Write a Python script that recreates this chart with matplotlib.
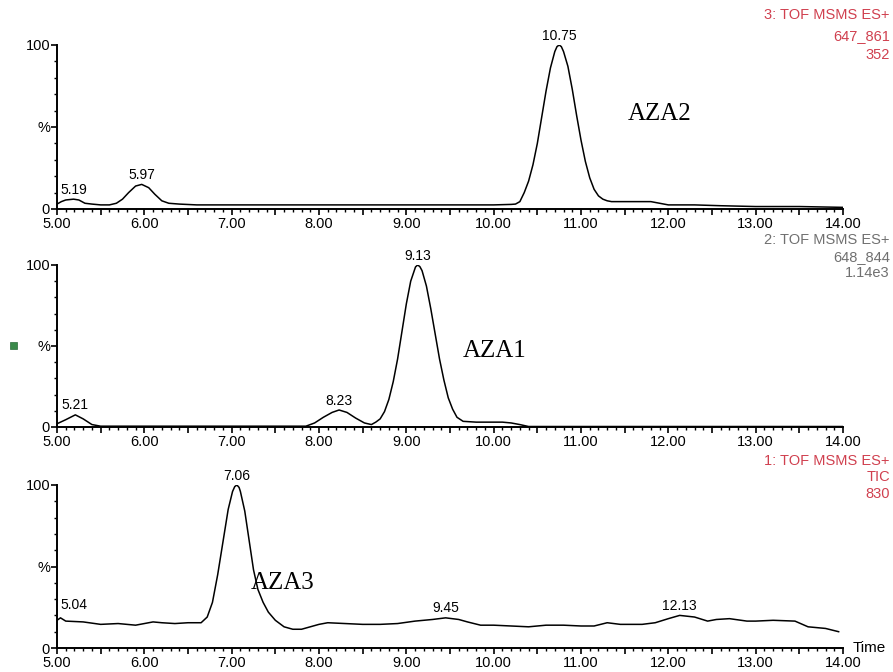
import matplotlib
matplotlib.use("Agg")
import matplotlib.pyplot as plt
from matplotlib.ticker import MultipleLocator, FuncFormatter
from matplotlib.patches import Rectangle

# ---------------- data ----------------
# Panel 1: 3: TOF MSMS ES+ 647_861 (AZA2)
t1 = [5.00, 5.05, 5.10, 5.19, 5.25, 5.32, 5.40, 5.50, 5.60, 5.68, 5.75, 5.82, 5.90, 5.97,
      6.05, 6.12, 6.20, 6.28, 6.40, 6.60, 6.80, 7.00, 7.50, 8.00, 8.50, 9.00, 9.50, 9.80,
      10.00, 10.20, 10.25, 10.30, 10.35, 10.40, 10.45, 10.50, 10.55, 10.60, 10.65, 10.70,
      10.725, 10.75, 10.775, 10.80, 10.85, 10.90, 10.95, 11.00, 11.05, 11.10, 11.15, 11.20,
      11.25, 11.30, 11.35, 11.60, 11.80, 11.90, 12.00, 12.30, 12.60, 13.00, 13.50, 14.00]
i1 = [3.0, 4.5, 5.5, 6.0, 5.5, 3.5, 3.0, 2.5, 2.5, 3.5, 6.0, 10.0, 14.0, 15.0,
      13.0, 9.0, 5.0, 3.5, 3.0, 2.5, 2.5, 2.5, 2.5, 2.5, 2.5, 2.5, 2.5, 2.5,
      2.5, 2.8, 3.0, 4.5, 10.0, 17.0, 27.0, 40.0, 56.0, 72.0, 86.0, 96.0,
      99.0, 100.0, 99.0, 96.0, 87.0, 73.0, 57.0, 42.0, 29.0, 19.0, 12.0, 8.0,
      6.0, 5.0, 4.5, 4.5, 4.5, 3.5, 2.5, 2.5, 2.0, 1.5, 1.5, 1.0]

# Panel 2: 2: TOF MSMS ES+ 648_844 (AZA1)
t2 = [5.00, 5.10, 5.21, 5.30, 5.40, 5.50, 6.00, 7.00, 7.85, 7.95, 8.05, 8.15, 8.23, 8.32,
      8.42, 8.52, 8.60, 8.65, 8.70, 8.75, 8.80, 8.85, 8.90, 8.95, 9.00, 9.05, 9.105, 9.13,
      9.155, 9.18, 9.23, 9.28, 9.33, 9.38, 9.43, 9.48, 9.53, 9.58, 9.65, 9.80, 10.00, 10.10,
      10.20, 10.30, 10.40, 11.00, 12.00, 14.00]
i2 = [2.0, 4.5, 7.5, 5.0, 1.5, 0.5, 0.5, 0.5, 0.5, 2.5, 6.0, 9.0, 10.5, 9.0,
      5.5, 2.5, 1.5, 3.0, 5.0, 9.5, 17.0, 28.0, 42.0, 59.0, 76.0, 90.0, 98.8, 100.0,
      99.0, 96.5, 87.0, 73.0, 57.5, 42.0, 29.0, 18.0, 11.0, 6.0, 3.5, 3.0, 3.0, 3.0,
      2.5, 1.5, 0.3, 0.3, 0.3, 0.3]

# Panel 3: 1: TOF MSMS ES+ TIC (AZA3)
t3 = [5.00, 5.04, 5.10, 5.30, 5.50, 5.70, 5.90, 6.00, 6.10, 6.20, 6.35, 6.50, 6.65, 6.72,
      6.78, 6.84, 6.90, 6.96, 7.01, 7.035, 7.06, 7.085, 7.10, 7.15, 7.20, 7.25, 7.30, 7.36,
      7.42, 7.50, 7.60, 7.70, 7.80, 7.90, 8.00, 8.10, 8.30, 8.50, 8.70, 8.90, 9.10, 9.30,
      9.45, 9.60, 9.70, 9.85, 10.00, 10.20, 10.40, 10.60, 10.80, 11.00, 11.15, 11.30, 11.45,
      11.70, 11.85, 12.00, 12.13, 12.30, 12.45, 12.55, 12.70, 12.90, 13.00, 13.20, 13.45,
      13.60, 13.80, 13.95]
i3 = [17.0, 18.5, 16.5, 16.0, 14.5, 15.0, 14.0, 15.0, 16.0, 15.5, 15.0, 15.5, 15.5, 19.0,
      28.0, 45.0, 65.0, 85.0, 96.0, 99.0, 100.0, 98.5, 96.0, 84.0, 66.0, 48.0, 36.0, 28.0,
      22.0, 17.0, 13.0, 11.5, 11.5, 13.0, 14.5, 15.5, 15.0, 14.5, 14.5, 15.0, 16.5, 17.5,
      18.5, 17.5, 16.0, 14.0, 14.0, 13.5, 13.0, 14.0, 14.0, 13.5, 13.5, 15.5, 14.5,
      14.5, 15.5, 18.0, 20.0, 19.0, 16.5, 17.5, 18.0, 16.5, 16.5, 17.0, 16.5,
      13.0, 12.0, 10.0]

# peak labels: (time, intensity, text, horizontal alignment)
peaks1 = [(5.19, 6.0, "5.19", "center"), (5.97, 15.0, "5.97", "center"),
          (10.75, 100.0, "10.75", "center")]
peaks2 = [(5.21, 7.5, "5.21", "center"), (8.23, 10.5, "8.23", "center"),
          (9.13, 100.0, "9.13", "center")]
peaks3 = [(5.04, 20.5, "5.04", "left"), (7.06, 100.0, "7.06", "center"),
          (9.45, 18.5, "9.45", "center"), (12.13, 20.0, "12.13", "center")]

headers = [["3: TOF MSMS ES+", "647_861", "352"],
           ["2: TOF MSMS ES+", "648_844", "1.14e3"],
           ["1: TOF MSMS ES+", "TIC", "830"]]
header_colors = ["#d0404f", "#707070", "#d0404f"]
compounds = [("AZA2", 11.54, 58), ("AZA1", 9.65, 47), ("AZA3", 7.22, 40)]

# ---------------- figure ----------------
SANS = "Liberation Sans"
SERIF = "Liberation Serif"
fig = plt.figure(figsize=(8.93, 6.72), dpi=100)
fig.patch.set_facecolor("white")

left, width = 57 / 893, (843 - 57) / 893
rects = [(1 - 209 / 672, 164 / 672), (1 - 427 / 672, 162 / 672), (1 - 648 / 672, 163 / 672)]
series = [(t1, i1, peaks1), (t2, i2, peaks2), (t3, i3, peaks3)]
header_rows = [[15, 36, 55], [240, 257, 273], [461, 477, 494]]

for k, ((bottom, height), (t, inten, peaks)) in enumerate(zip(rects, series)):
    ax = fig.add_axes([left, bottom, width, height])
    ax.plot(t, inten, color="black", lw=1.1)
    ax.set_xlim(5.0, 14.0)
    ax.set_ylim(0, 100)
    for s in ["top", "right"]:
        ax.spines[s].set_visible(False)
    for s in ["left", "bottom"]:
        ax.spines[s].set_linewidth(1.4)
    ax.xaxis.set_major_locator(MultipleLocator(0.5))
    ax.xaxis.set_minor_locator(MultipleLocator(0.1))
    ax.xaxis.set_major_formatter(FuncFormatter(
        lambda v, p: f"{v:.2f}" if abs(v - round(v)) < 1e-6 else ""))
    ax.set_yticks([0, 50, 100])
    ax.set_yticklabels(["0", "%", "100"])
    ax.yaxis.set_minor_locator(MultipleLocator(10))
    ax.tick_params(axis="x", which="major", direction="out", length=4, width=1.2,
                   labelsize=10.5, pad=2)
    ax.tick_params(axis="x", which="minor", direction="out", length=2, width=1)
    ax.tick_params(axis="y", which="major", direction="out", length=4, width=1.2,
                   labelsize=10.5, pad=1)
    ax.tick_params(axis="y", which="minor", direction="out", length=2, width=1)
    for lab in ax.get_xticklabels() + ax.get_yticklabels():
        lab.set_fontfamily(SANS)
    for (px, py, txt, ha) in peaks:
        ax.text(px, py + 1.5, txt, ha=ha, va="bottom", fontsize=10,
                family=SANS, color="black")
    name, nx, ny = compounds[k]
    ax.text(nx, ny, name, ha="left", va="center", fontsize=18, family=SERIF)
    for j, line in enumerate(headers[k]):
        fig.text(890 / 893, 1 - header_rows[k][j] / 672, line, ha="right", va="center",
                 fontsize=10.5, family=SANS, color=header_colors[k])
    if k == 2:
        ax.text(1.012, 0.0, "Time", transform=ax.transAxes, ha="left",
                va="center", fontsize=11, family=SANS)

# small green marker at left of middle panel
fig.patches.append(Rectangle((10 / 893, 1 - 349 / 672), 7 / 893, 7 / 672,
                             transform=fig.transFigure, facecolor="#3a8a4a",
                             edgecolor="#2a6a3a", lw=0.5))

fig.savefig("out.png", dpi=100)
